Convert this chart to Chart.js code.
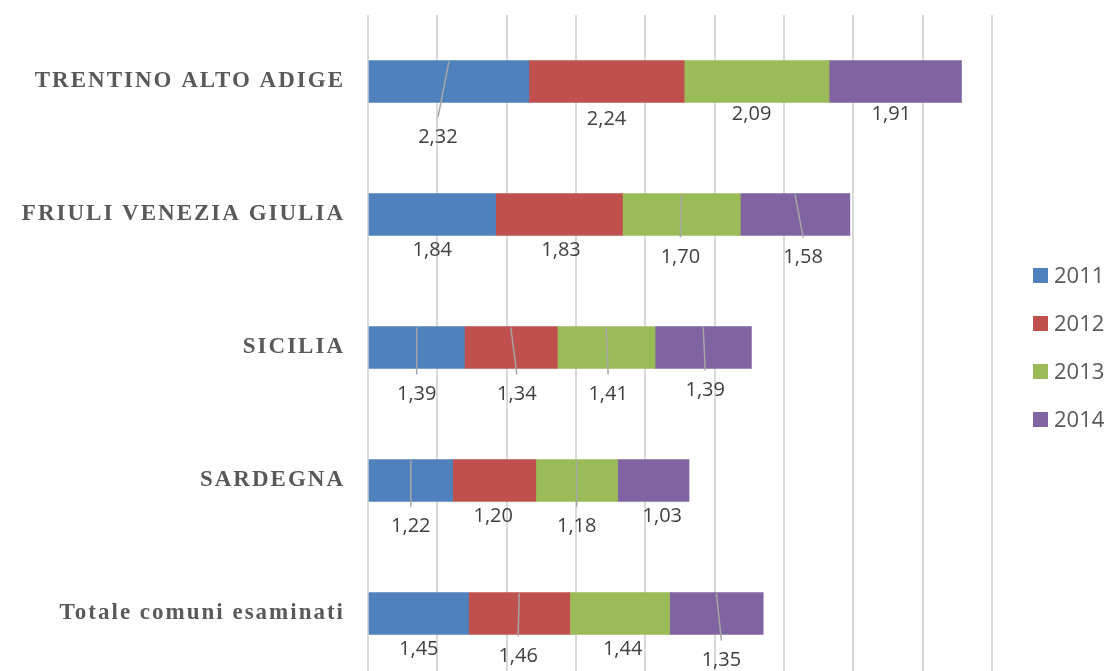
<!DOCTYPE html>
<html><head><meta charset="utf-8">
<script src="https://cdn.jsdelivr.net/npm/chart.js@4.4.0/dist/chart.umd.min.js"></script>
<style>
html,body{margin:0;padding:0;background:#fff;overflow:hidden;}
#wrap{position:relative;width:1110px;height:680px;}
</style></head><body>
<div id="wrap"><canvas id="c"></canvas></div>
<script>
// ---- data ----
const categories = ['TRENTINO ALTO ADIGE', 'FRIULI VENEZIA GIULIA', 'SICILIA', 'SARDEGNA', 'Totale comuni esaminati'];
const seriesNames = ['2011', '2012', '2013', '2014'];
const values2011 = [2.32, 1.84, 1.39, 1.22, 1.45];
const values2012 = [2.24, 1.83, 1.34, 1.20, 1.46];
const values2013 = [2.09, 1.70, 1.41, 1.18, 1.44];
const values2014 = [1.91, 1.58, 1.39, 1.03, 1.35];
const axisMin = 0, axisMax = 9, axisStep = 1;

// ---- style ----
const colors = ['#4F81BD', '#C0504D', '#9BBB59', '#8064A2'];
// data-label placement tweaks (pixels), per series then per category
const labelDx = [[-11, 0, 0, 0, 0], [0, 2, 6, -1, -1], [-5, -1, 2, 0, 3], [-4, 8, 2, 9, 5]];
const labelDy = [[35, 15, 26, 25, 15], [17, 15, 26, 15, 22], [12, 22, 26, 25, 15], [12, 22, 22, 15, 26]];
const leader  = [[1, 0, 1, 1, 0], [0, 0, 1, 0, 1], [0, 1, 1, 1, 0], [0, 1, 1, 0, 1]];

const seriesValues = [values2011, values2012, values2013, values2014];
const fmt = v => v.toFixed(2).replace('.', ',');

const spacingPlugin = {
  id: 'spacing',
  beforeDraw(chart) { chart.ctx.letterSpacing = '2px'; },
  beforeDatasetsDraw(chart) { chart.ctx.letterSpacing = '0px'; }
};

const labelPlugin = {
  id: 'dlabels',
  afterDatasetsDraw(chart) {
    const ctx = chart.ctx;
    ctx.save();
    ctx.letterSpacing = '0px';
    chart.data.datasets.forEach((ds, i) => {
      const meta = chart.getDatasetMeta(i);
      meta.data.forEach((el, j) => {
        const p = el.getProps(['x', 'y', 'base', 'height'], true);
        const cx = (p.x + p.base) / 2;
        const top = p.y - p.height / 2;
        const bottom = p.y + p.height / 2;
        const lx = cx + labelDx[i][j];
        const ly = bottom + labelDy[i][j];
        if (leader[i][j]) {
          ctx.strokeStyle = '#a6a6a6';
          ctx.lineWidth = 1.5;
          ctx.beginPath();
          ctx.moveTo(cx, top + 1);
          ctx.lineTo(lx, ly - 20);
          ctx.stroke();
        }
        ctx.fillStyle = '#404040';
        ctx.font = "20px 'Open Sans'";
        ctx.textAlign = 'center';
        ctx.textBaseline = 'middle';
        ctx.fillText(fmt(ds.data[j]), lx, ly);
      });
    });
    ctx.restore();
  },
  afterDraw(chart) {
    const ctx = chart.ctx;
    ctx.save();
    ctx.letterSpacing = '0px';
    const x0 = 1033, y0 = 275.5, step = 48;
    chart.data.datasets.forEach((ds, i) => {
      const yc = y0 + i * step;
      ctx.fillStyle = ds.backgroundColor;
      ctx.fillRect(x0, yc - 7.5, 15, 15);
      ctx.fillStyle = '#595959';
      ctx.font = "22px 'Open Sans'";
      ctx.textAlign = 'left';
      ctx.textBaseline = 'middle';
      ctx.fillText(ds.label, x0 + 21, yc + 1);
    });
    ctx.restore();
  }
};

new Chart(document.getElementById('c'), {
  type: 'bar',
  data: {
    labels: categories,
    datasets: seriesNames.map((n, i) => ({
      label: n,
      data: seriesValues[i],
      backgroundColor: colors[i],
      borderWidth: 0,
      barThickness: 42
    }))
  },
  options: {
    indexAxis: 'y',
    responsive: true,
    maintainAspectRatio: false,
    animation: false,
    layout: { padding: { top: 15, right: 118, bottom: 0, left: 0 } },
    plugins: { legend: { display: false }, tooltip: { enabled: false } },
    scales: {
      x: {
        stacked: true, min: axisMin, max: axisMax,
        ticks: { display: false, stepSize: axisStep },
        grid: { color: '#d9d9d9', lineWidth: 2, drawTicks: false },
        border: { display: false },
        afterFit(s) { s.paddingLeft = 0; s.paddingRight = 0; s.height = 0; }
      },
      y: {
        stacked: true,
        grid: { display: false, drawTicks: false },
        border: { display: false },
        ticks: { padding: 23, color: '#595959', font: { family: "'Liberation Serif', 'DejaVu Serif', serif", size: 23, weight: 'bold' } },
        afterFit(s) { s.width = 368; s.paddingTop = 0; s.paddingBottom = 0; }
      }
    }
  },
  plugins: [spacingPlugin, labelPlugin]
});
</script>
</body></html>
